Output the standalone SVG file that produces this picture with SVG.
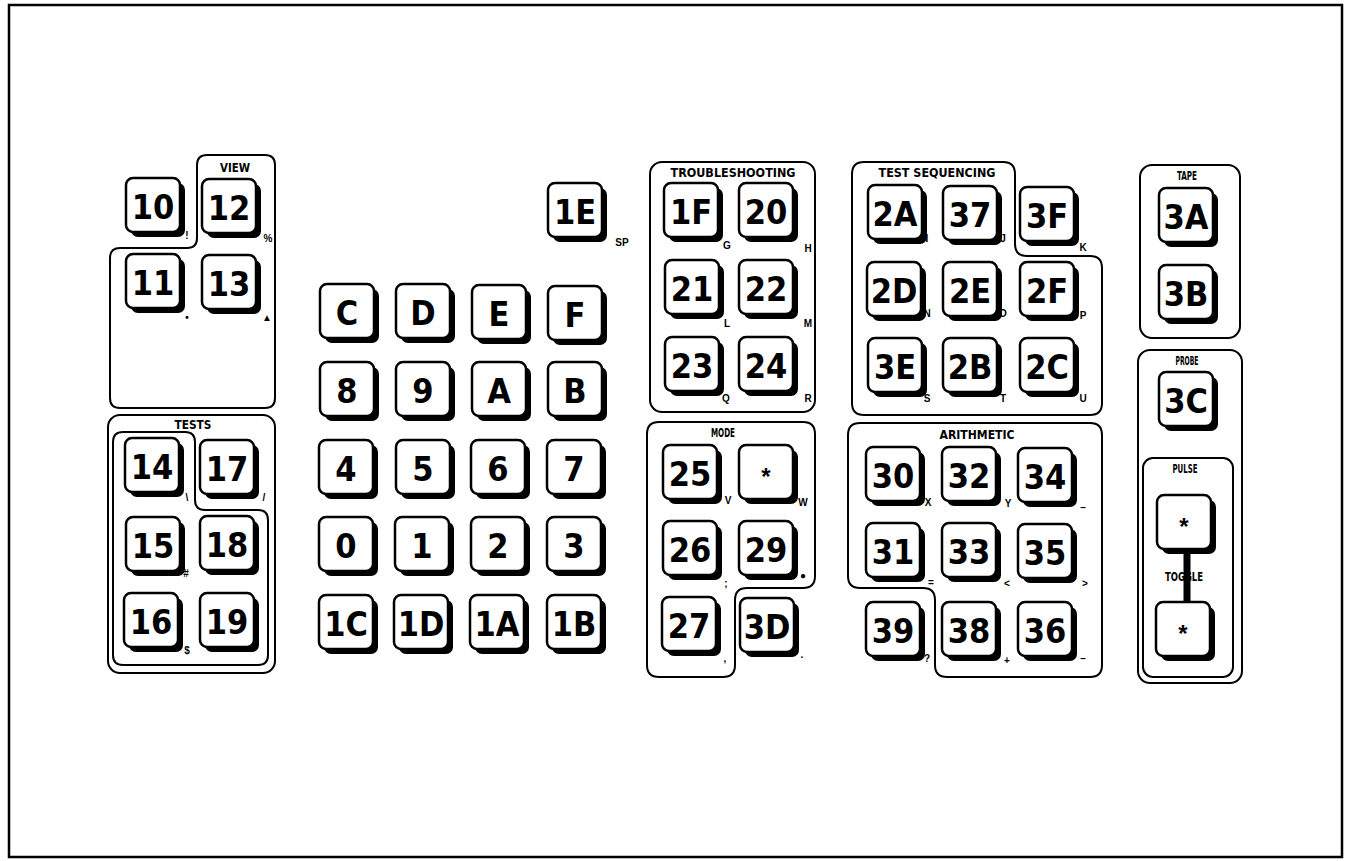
<svg xmlns="http://www.w3.org/2000/svg" xmlns:xlink="http://www.w3.org/1999/xlink" width="1348" height="861" viewBox="0 0 1348 861">
<style>
.k{font-family:"Liberation Sans Narrow","DejaVu Sans Condensed","Liberation Sans",sans-serif;font-stretch:condensed;font-weight:bold;font-size:34px;text-anchor:middle;fill:#000}
.m{font-family:"Liberation Sans","DejaVu Sans",sans-serif;font-weight:bold;font-size:10px;text-anchor:middle;fill:#000}
.h{font-family:"Liberation Sans Narrow","DejaVu Sans Condensed","Liberation Sans",sans-serif;font-stretch:condensed;font-weight:bold;font-size:12px;text-anchor:middle;fill:#000}
.s{font-family:"Liberation Sans","DejaVu Sans",sans-serif;font-weight:bold;font-size:24px;text-anchor:middle;fill:#000}
.box{fill:none;stroke:#000;stroke-width:2}
</style>
<defs>
<g id="kb"><rect x="5" y="5" width="54" height="54" rx="7" fill="#000"/><rect x="0" y="0" width="54" height="54" rx="7" fill="#fff" stroke="#000" stroke-width="2.5"/></g>
</defs>
<rect x="0" y="0" width="1348" height="861" fill="#fff"/>
<rect x="9" y="5" width="1333" height="852" fill="none" stroke="#000" stroke-width="2.5"/>

<g id="groups">
<path id="view-box" class="box" d="M197,165 Q197,155 207,155 H265 Q275,155 275,165 V398 Q275,408 265,408 H120 Q110,408 110,398 V258 Q110,248 120,248 H187 Q197,248 197,238 Z"/>
<text class="h" x="235" y="172" textLength="30" lengthAdjust="spacingAndGlyphs">VIEW</text>
<rect id="tests-box" class="box" x="108" y="415" width="167" height="258" rx="12"/>
<path class="box" d="M113,442 Q113,432 123,432 H185 Q195,432 195,442 V500 Q195,510 205,510 H258 Q268,510 268,520 V655 Q268,665 258,665 H123 Q113,665 113,655 Z"/>
<text class="h" x="193" y="429" textLength="37" lengthAdjust="spacingAndGlyphs">TESTS</text>
<rect id="ts-box" class="box" x="650" y="162" width="165" height="250" rx="12"/>
<text class="h" x="733" y="177" textLength="125" lengthAdjust="spacingAndGlyphs">TROUBLESHOOTING</text>
<path id="mode-box" class="box" d="M647,434 Q647,422 659,422 H803 Q815,422 815,434 V576 Q815,588 803,588 H747 Q735,588 735,600 V665 Q735,677 723,677 H659 Q647,677 647,665 Z"/>
<text class="h" x="723" y="437" textLength="24" lengthAdjust="spacingAndGlyphs">MODE</text>
<path id="seq-box" class="box" d="M852,174 Q852,162 864,162 H1003 Q1015,162 1015,174 V244 Q1015,256 1027,256 H1090 Q1102,256 1102,268 V403 Q1102,415 1090,415 H864 Q852,415 852,403 Z"/>
<text class="h" x="937" y="177" textLength="117" lengthAdjust="spacingAndGlyphs">TEST SEQUENCING</text>
<path id="arith-box" class="box" d="M848,435 Q848,423 860,423 H1090 Q1102,423 1102,435 V665 Q1102,677 1090,677 H947 Q935,677 935,665 V600 Q935,588 923,588 H860 Q848,588 848,576 Z"/>
<text class="h" x="977" y="439" textLength="75" lengthAdjust="spacingAndGlyphs">ARITHMETIC</text>
<rect id="tape-box" class="box" x="1140" y="165" width="100" height="173" rx="12"/>
<text class="h" x="1187" y="180" textLength="20" lengthAdjust="spacingAndGlyphs">TAPE</text>
<rect id="probe-box" class="box" x="1138" y="350" width="104" height="333" rx="12"/>
<text class="h" x="1187" y="365" textLength="23" lengthAdjust="spacingAndGlyphs">PROBE</text>
<rect id="pulse-box" class="box" x="1143" y="458" width="90" height="219" rx="10"/>
<text class="h" x="1185" y="473" font-size="8" textLength="25" lengthAdjust="spacingAndGlyphs">PULSE</text>
<text class="h" x="1184" y="581" font-size="8" textLength="38" lengthAdjust="spacingAndGlyphs">TOGGLE</text>
</g>

<g id="connectors">
<line x1="1187" y1="553" x2="1187" y2="602" stroke="#000" stroke-width="7"/>
</g>

<g id="k-10"><use xlink:href="#kb" x="126" y="178"/><text class="k" x="153" y="219">10</text><text class="m" x="187" y="239">!</text></g>
<g id="k-12"><use xlink:href="#kb" x="202" y="179"/><text class="k" x="229" y="220">12</text><text class="m" x="268" y="242">%</text></g>
<g id="k-11"><use xlink:href="#kb" x="126" y="254"/><text class="k" x="153" y="295">11</text><text class="m" x="187" y="321" font-size="12">•</text></g>
<g id="k-13"><use xlink:href="#kb" x="202" y="255"/><text class="k" x="229" y="296">13</text><text class="m" x="267" y="321" font-size="9">▲</text></g>

<g id="k-14"><use xlink:href="#kb" x="125" y="438"/><text class="k" x="152" y="479">14</text><text class="m" x="187" y="501">\</text></g>
<g id="k-17"><use xlink:href="#kb" x="200" y="440"/><text class="k" x="227" y="481">17</text><text class="m" x="264" y="501">/</text></g>
<g id="k-15"><use xlink:href="#kb" x="126" y="517"/><text class="k" x="153" y="558">15</text><text class="m" x="186" y="577" font-size="9">#</text></g>
<g id="k-18"><use xlink:href="#kb" x="200" y="516"/><text class="k" x="227" y="557">18</text></g>
<g id="k-16"><use xlink:href="#kb" x="124" y="593"/><text class="k" x="151" y="634">16</text><text class="m" x="187" y="654">$</text></g>
<g id="k-19"><use xlink:href="#kb" x="200" y="593"/><text class="k" x="227" y="634">19</text></g>

<g id="k-C"><use xlink:href="#kb" x="320" y="284"/><text class="k" x="347" y="325">C</text></g>
<g id="k-D"><use xlink:href="#kb" x="396" y="284"/><text class="k" x="423" y="325">D</text></g>
<g id="k-E"><use xlink:href="#kb" x="472" y="285"/><text class="k" x="499" y="326">E</text></g>
<g id="k-F"><use xlink:href="#kb" x="548" y="286"/><text class="k" x="575" y="327">F</text></g>
<g id="k-8"><use xlink:href="#kb" x="320" y="362"/><text class="k" x="347" y="403">8</text></g>
<g id="k-9"><use xlink:href="#kb" x="396" y="362"/><text class="k" x="423" y="403">9</text></g>
<g id="k-A"><use xlink:href="#kb" x="472" y="362"/><text class="k" x="499" y="403">A</text></g>
<g id="k-B"><use xlink:href="#kb" x="548" y="362"/><text class="k" x="575" y="403">B</text></g>
<g id="k-4"><use xlink:href="#kb" x="319" y="440"/><text class="k" x="346" y="481">4</text></g>
<g id="k-5"><use xlink:href="#kb" x="396" y="440"/><text class="k" x="423" y="481">5</text></g>
<g id="k-6"><use xlink:href="#kb" x="471" y="440"/><text class="k" x="498" y="481">6</text></g>
<g id="k-7"><use xlink:href="#kb" x="547" y="440"/><text class="k" x="574" y="481">7</text></g>
<g id="k-0"><use xlink:href="#kb" x="319" y="517"/><text class="k" x="346" y="558">0</text></g>
<g id="k-1"><use xlink:href="#kb" x="395" y="517"/><text class="k" x="422" y="558">1</text></g>
<g id="k-2"><use xlink:href="#kb" x="471" y="517"/><text class="k" x="498" y="558">2</text></g>
<g id="k-3"><use xlink:href="#kb" x="547" y="517"/><text class="k" x="574" y="558">3</text></g>
<g id="k-1C"><use xlink:href="#kb" x="319" y="595"/><text class="k" x="346" y="636">1C</text></g>
<g id="k-1D"><use xlink:href="#kb" x="394" y="595"/><text class="k" x="421" y="636">1D</text></g>
<g id="k-1A"><use xlink:href="#kb" x="470" y="595"/><text class="k" x="497" y="636">1A</text></g>
<g id="k-1B"><use xlink:href="#kb" x="547" y="595"/><text class="k" x="574" y="636">1B</text></g>
<g id="k-1E"><use xlink:href="#kb" x="548" y="183"/><text class="k" x="575" y="224">1E</text><text class="m" x="622" y="246" font-size="9">SP</text></g>

<g id="k-1F"><use xlink:href="#kb" x="664" y="183"/><text class="k" x="691" y="224">1F</text><text class="m" x="727" y="249">G</text></g>
<g id="k-20"><use xlink:href="#kb" x="739" y="183"/><text class="k" x="766" y="224">20</text><text class="m" x="808" y="252">H</text></g>
<g id="k-21"><use xlink:href="#kb" x="665" y="260"/><text class="k" x="692" y="301">21</text><text class="m" x="727" y="327">L</text></g>
<g id="k-22"><use xlink:href="#kb" x="739" y="260"/><text class="k" x="766" y="301">22</text><text class="m" x="808" y="327">M</text></g>
<g id="k-23"><use xlink:href="#kb" x="665" y="337"/><text class="k" x="692" y="378">23</text><text class="m" x="726" y="402">Q</text></g>
<g id="k-24"><use xlink:href="#kb" x="739" y="337"/><text class="k" x="766" y="378">24</text><text class="m" x="808" y="402">R</text></g>

<g id="k-25"><use xlink:href="#kb" x="663" y="445"/><text class="k" x="690" y="486">25</text><text class="m" x="728" y="504">V</text></g>
<g id="k-star-mode"><use xlink:href="#kb" x="739" y="445"/><text class="s" x="766" y="485">*</text><text class="m" x="803" y="506">W</text></g>
<g id="k-26"><use xlink:href="#kb" x="663" y="521"/><text class="k" x="690" y="562">26</text><text class="m" x="726" y="587">;</text></g>
<g id="k-29"><use xlink:href="#kb" x="739" y="521"/><text class="k" x="766" y="562">29</text><text class="m" x="803" y="579" font-size="13">●</text></g>
<g id="k-27"><use xlink:href="#kb" x="662" y="597"/><text class="k" x="689" y="638">27</text><text class="m" x="725" y="662">,</text></g>
<g id="k-3D"><use xlink:href="#kb" x="740" y="598"/><text class="k" x="767" y="639">3D</text><text class="m" x="802" y="658">.</text></g>

<g id="k-2A"><use xlink:href="#kb" x="868" y="185"/><text class="k" x="895" y="226">2A</text><text class="m" x="927" y="242">I</text></g>
<g id="k-37"><use xlink:href="#kb" x="943" y="186"/><text class="k" x="970" y="227">37</text><text class="m" x="1003" y="242">J</text></g>
<g id="k-3F"><use xlink:href="#kb" x="1020" y="187"/><text class="k" x="1047" y="228">3F</text><text class="m" x="1083" y="251">K</text></g>
<g id="k-2D"><use xlink:href="#kb" x="867" y="262"/><text class="k" x="894" y="303">2D</text><text class="m" x="927" y="317">N</text></g>
<g id="k-2E"><use xlink:href="#kb" x="943" y="262"/><text class="k" x="970" y="303">2E</text><text class="m" x="1003" y="317">O</text></g>
<g id="k-2F"><use xlink:href="#kb" x="1020" y="262"/><text class="k" x="1047" y="303">2F</text><text class="m" x="1083" y="319">P</text></g>
<g id="k-3E"><use xlink:href="#kb" x="868" y="338"/><text class="k" x="895" y="379">3E</text><text class="m" x="927" y="402">S</text></g>
<g id="k-2B"><use xlink:href="#kb" x="943" y="338"/><text class="k" x="970" y="379">2B</text><text class="m" x="1003" y="402">T</text></g>
<g id="k-2C"><use xlink:href="#kb" x="1020" y="338"/><text class="k" x="1047" y="379">2C</text><text class="m" x="1083" y="402">U</text></g>

<g id="k-30"><use xlink:href="#kb" x="866" y="447"/><text class="k" x="893" y="488">30</text><text class="m" x="928" y="506">X</text></g>
<g id="k-32"><use xlink:href="#kb" x="942" y="447"/><text class="k" x="969" y="488">32</text><text class="m" x="1008" y="507">Y</text></g>
<g id="k-34"><use xlink:href="#kb" x="1018" y="448"/><text class="k" x="1045" y="489">34</text><text class="m" x="1083" y="511">–</text></g>
<g id="k-31"><use xlink:href="#kb" x="866" y="523"/><text class="k" x="893" y="564">31</text><text class="m" x="931" y="586">=</text></g>
<g id="k-33"><use xlink:href="#kb" x="942" y="523"/><text class="k" x="969" y="564">33</text><text class="m" x="1007" y="587">&lt;</text></g>
<g id="k-35"><use xlink:href="#kb" x="1018" y="524"/><text class="k" x="1045" y="565">35</text><text class="m" x="1085" y="587">&gt;</text></g>
<g id="k-39"><use xlink:href="#kb" x="866" y="602"/><text class="k" x="893" y="643">39</text><text class="m" x="927" y="662">?</text></g>
<g id="k-38"><use xlink:href="#kb" x="942" y="602"/><text class="k" x="969" y="643">38</text><text class="m" x="1007" y="664">+</text></g>
<g id="k-36"><use xlink:href="#kb" x="1018" y="602"/><text class="k" x="1045" y="643">36</text><text class="m" x="1083" y="662">–</text></g>

<g id="k-3A"><use xlink:href="#kb" x="1159" y="188"/><text class="k" x="1186" y="229">3A</text></g>
<g id="k-3B"><use xlink:href="#kb" x="1159" y="265"/><text class="k" x="1186" y="306">3B</text></g>
<g id="k-3C"><use xlink:href="#kb" x="1159" y="372"/><text class="k" x="1186" y="413">3C</text></g>
<g id="k-pulse"><use xlink:href="#kb" x="1157" y="495"/><text class="s" x="1184" y="535">*</text></g>
<g id="k-toggle"><use xlink:href="#kb" x="1156" y="602"/><text class="s" x="1183" y="642">*</text></g>
</svg>
